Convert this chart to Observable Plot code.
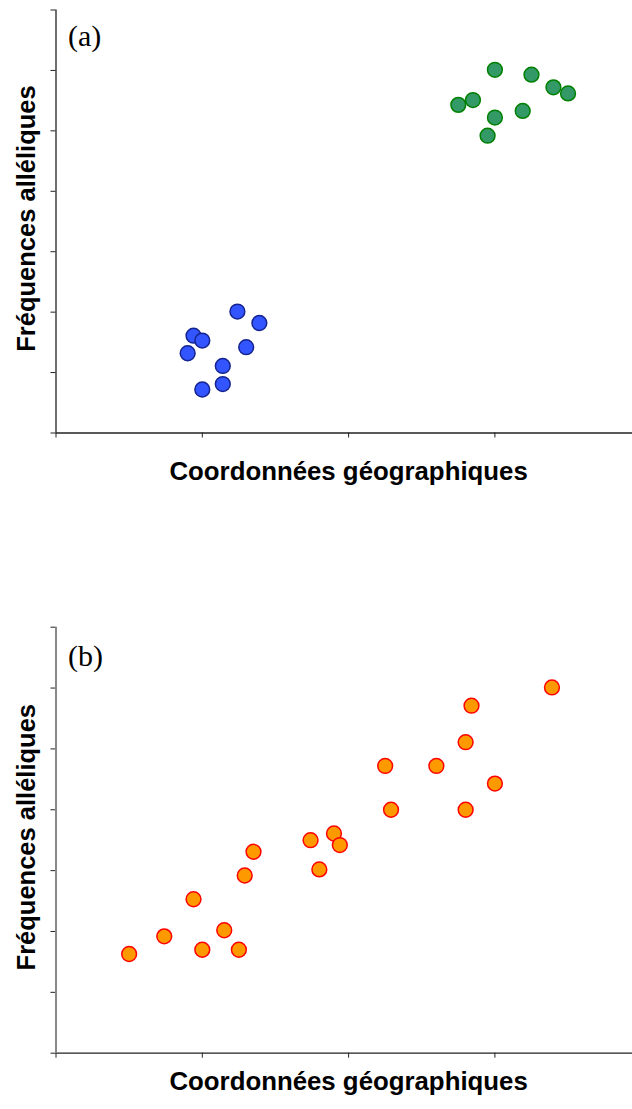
<!DOCTYPE html>
<html><head><meta charset="utf-8">
<script src="https://cdn.jsdelivr.net/npm/d3@7"></script>
<script src="https://cdn.jsdelivr.net/npm/@observablehq/plot@0.6"></script>
<style>html,body{margin:0;padding:0;background:#fff;overflow:hidden}#chart svg{display:block}</style>
</head><body><div id="chart"></div><script>
const xTitle = "Coordonnées géographiques";
const yTitle = "Fréquences alléliques";
const panelLabels = ["(a)", "(b)"];
const xTicks = [0, 1, 2, 3, 4];
const yTicks = [0, 1, 2, 3, 4, 5, 6, 7];

// Panel (a)
const blueX = [1.24, 1.39, 0.94, 1.00, 0.90, 1.30, 1.14, 1.14, 1.00];
const blueY = [2.01, 1.82, 1.61, 1.53, 1.32, 1.42, 1.11, 0.81, 0.72];
const greenX = [3.00, 3.25, 3.40, 3.50, 2.85, 2.75, 3.19, 3.00, 2.95];
const greenY = [6.01, 5.93, 5.72, 5.62, 5.51, 5.43, 5.33, 5.22, 4.92];

// Panel (b)
const orangeX = [0.50, 0.74, 0.94, 1.00, 1.15, 1.25, 1.29, 1.35, 1.74, 1.80, 1.90, 1.94, 2.25, 2.29, 2.60, 2.80, 2.84, 2.80, 3.00, 3.39];
const orangeY = [1.63, 1.92, 2.53, 1.70, 2.02, 1.70, 2.92, 3.31, 3.50, 3.02, 3.61, 3.42, 4.72, 4.00, 4.72, 5.11, 5.71, 4.00, 4.43, 6.01];

function panel(opts) {
  const dots = opts.series.map(s => Plot.dot(s.x, {x: s.x, y: s.y, r: 7.4, fill: s.fill, stroke: s.stroke, strokeWidth: 1.5}));
  return Plot.plot({
    width: 632,
    height: opts.height,
    marginLeft: 55.5,
    marginRight: -8.7,
    marginTop: opts.mt,
    marginBottom: opts.mb,
    style: {overflow: "hidden", background: "#fff", fontFamily: "'Liberation Sans', Arial, sans-serif"},
    x: {domain: [0, 4]},
    y: {domain: [0, 7]},
    marks: [
      Plot.axisY(yTicks, {tickSize: 5, tickFormat: () => "", label: null, stroke: "#222"}),
      Plot.axisX(xTicks, {tickSize: 5, tickFormat: () => "", label: null, stroke: "#222"}),
      Plot.ruleY([0], {stroke: "#222", strokeWidth: 1.3}),
      Plot.ruleX([0], {stroke: opts.yAxisColor, strokeWidth: opts.yAxisWidth}),
      ...dots,
      Plot.text([opts.label], {frameAnchor: "top-left", textAnchor: "start", lineAnchor: "bottom", dx: 12, dy: opts.labelDy,
        fontSize: 30, fontFamily: "'Liberation Serif', 'Times New Roman', serif", fill: "#000"}),
      Plot.text([xTitle], {frameAnchor: "bottom", textAnchor: "middle", lineAnchor: "bottom", dy: opts.xTitleDy,
        fontSize: 25.8, fontWeight: "bold", fill: "#000"}),
      Plot.text([yTitle], {frameAnchor: "left", textAnchor: "middle", lineAnchor: "bottom", rotate: -90, dx: -21, dy: -3,
        fontSize: 25.5, fontWeight: "bold", fill: "#000"})
    ]
  });
}

const chart = document.getElementById("chart");
chart.append(panel({
  label: panelLabels[0], height: 555, mt: 9.5, mb: 122.5, labelDy: 36, xTitleDy: 47,
  yAxisColor: "#222", yAxisWidth: 1.3,
  series: [
    {x: blueX, y: blueY, fill: "#3355ff", stroke: "#14238f"},
    {x: greenX, y: greenY, fill: "#339966", stroke: "#008000"}
  ]
}));
chart.append(panel({
  label: panelLabels[1], height: 554, mt: 71.7, mb: 56.3, labelDy: 39, xTitleDy: 36.6,
  yAxisColor: "#888", yAxisWidth: 2,
  series: [
    {x: orangeX, y: orangeY, fill: "#ff9900", stroke: "#ff0000"}
  ]
}));
</script></body></html>
